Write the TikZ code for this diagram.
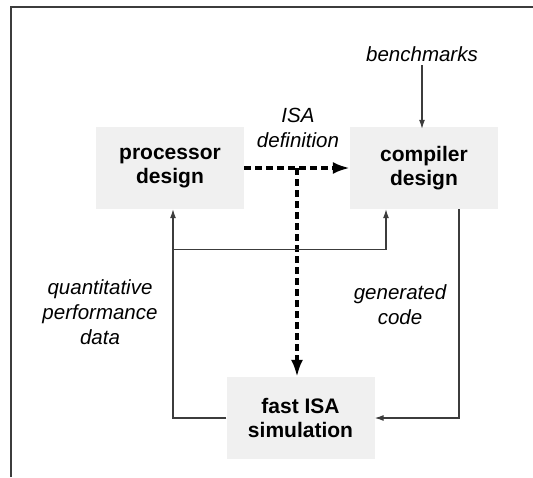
\documentclass[tikz,border=0pt]{standalone}
\usepackage{fontspec}
\setmainfont{Liberation Sans}
\usetikzlibrary{arrows.meta, calc, positioning}
\definecolor{boxgray}{RGB}{240,240,240}
\definecolor{linegray}{RGB}{60,60,60}

\tikzset{
  block/.style={fill=boxgray, minimum width=148pt, minimum height=82pt,
    inner sep=0pt, align=center, font=\fontsize{21}{24}\selectfont\bfseries},
  note/.style={align=center, font=\fontsize{20.5}{25}\selectfont\itshape},
  flow/.style={draw=linegray, line width=1.1pt, -{Latex[length=9pt,width=6pt]}},
  isaflow/.style={line width=3.2pt, dash pattern=on 7pt off 4pt,
    -{Latex[length=17pt,width=12pt]}}
}

\begin{document}
\begin{tikzpicture}[x=1pt, y=-1pt]
  \useasboundingbox (0,0) rectangle (533,477);
  % open frame
  \draw[linegray, line width=1.5pt] (11,477) -- (11,7) -- (533,7);

  % the three blocks
  \node[block] (proc) at (170,168) {processor\\design};
  \node[block] (comp) at (424,168) {compiler\\design};
  \node[block] (sim) at (300.5,418) {fast ISA\\simulation};

  % labels
  \node[note] (bench) at (422,54) {benchmarks};
  \node[note] (isadef) at (298,128) {ISA\\definition};
  \node[note] (perf) at (100,312) {quantitative\\performance\\data};
  \node[note] (code) at (400,305) {generated\\code};

  % ISA definition paths
  \coordinate (split) at ($(proc.east)!0.5!(comp.west)$);
  \draw[isaflow] (proc.east) -- (comp.west);
  \draw[isaflow] (split) -- (split |- sim.north);

  % benchmarks into the compiler
  \draw[flow] (bench.south) -- ([yshift=-2pt]bench |- comp.north);

  % performance data back to both designs
  \coordinate (fork) at ($([xshift=3pt]proc.south)+(0,40)$);
  \draw[flow] (sim.west) -| ([xshift=3pt]proc.south);
  \draw[flow] (fork) -| ([xshift=-38pt]comp.south);

  % generated code into the simulator
  \draw[flow] ([xshift=35pt]comp.south) |- (sim.east);
\end{tikzpicture}
\end{document}
